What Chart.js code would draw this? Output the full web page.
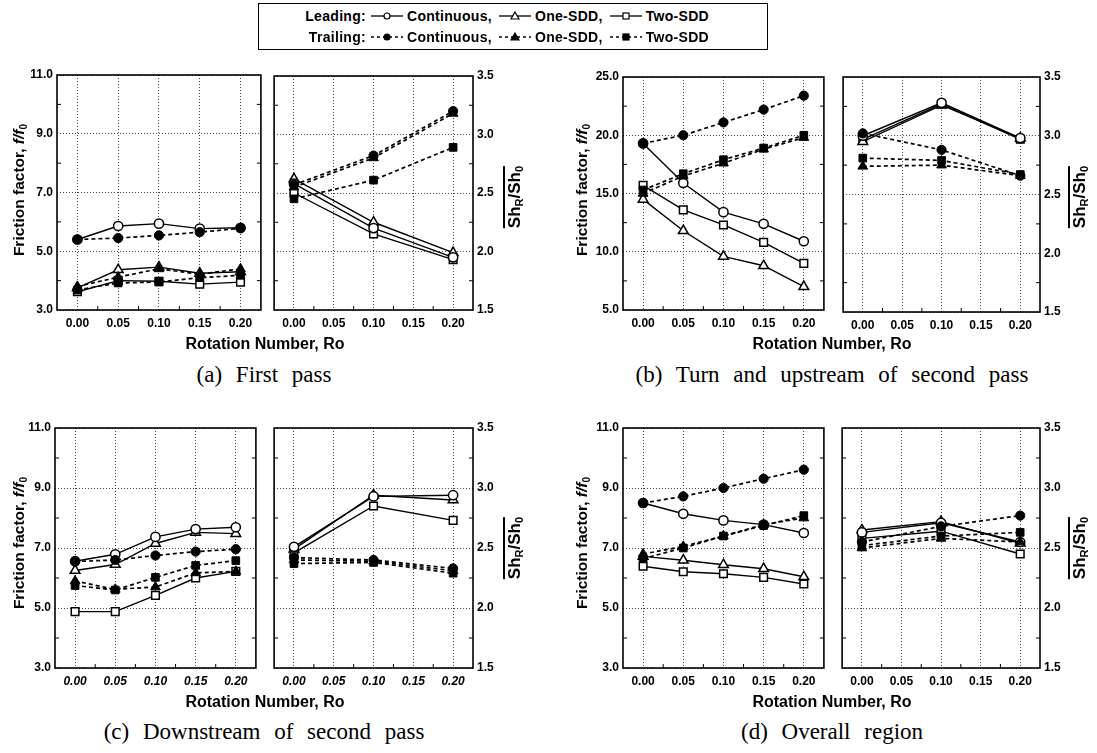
<!DOCTYPE html>
<html><head><meta charset="utf-8">
<script src="https://cdn.jsdelivr.net/npm/chart.js@4.4.1/dist/chart.umd.min.js"></script>
<style>
html,body{margin:0;padding:0;background:#fff;}
#page{position:relative;width:1097px;height:753px;overflow:hidden;background:#fff;font-family:"Liberation Sans",Arial,sans-serif;color:#000;}
#page canvas{position:absolute;}
.ttl{position:absolute;font-weight:bold;white-space:nowrap;transform:translate(-50%,-50%);line-height:1;}
.rot{transform:translate(-50%,-50%) rotate(-90deg);}
.cap{position:absolute;font-family:"Liberation Serif","DejaVu Serif",serif;font-size:23px;word-spacing:8px;white-space:nowrap;transform:translate(-50%,-50%);line-height:1;}
sub{font-size:65%;vertical-align:-0.3em;line-height:0;}
.ov{display:inline-block;border-top:2px solid #000;padding-top:1px;line-height:1;}
#legend{position:absolute;left:258px;top:3px;width:510px;height:47px;border:1.5px solid #000;box-sizing:border-box;}
.lrow{position:absolute;left:300px;display:flex;align-items:center;height:16px;transform:translateY(-50%);font-weight:bold;font-size:14px;letter-spacing:0.3px;white-space:nowrap;line-height:1;}
.lrow .lab{width:66px;text-align:right;margin-right:4px;}
.lrow svg{display:block;margin-right:3px;}
.lrow .txt{margin-right:6px;}
</style>
</head>
<body>
<div id="page">
  <div id="legend"></div>
</div>
<script>
// ---------------- DATA ----------------
const roFive = [0.00, 0.05, 0.10, 0.15, 0.20];
const roThree = [0.00, 0.10, 0.20];
const xTickValues = [0.00, 0.05, 0.10, 0.15, 0.20];
const xTickLabels = ['0.00', '0.05', '0.10', '0.15', '0.20'];
const fTickValues = [3, 5, 7, 9, 11];
const fTickLabels = ['3.0', '5.0', '7.0', '9.0', '11.0'];
const fTickValuesB = [5, 10, 15, 20, 25];
const fTickLabelsB = ['5.0', '10.0', '15.0', '20.0', '25.0'];
const shTickValues = [1.5, 2.0, 2.5, 3.0, 3.5];
const shTickLabels = ['1.5', '2.0', '2.5', '3.0', '3.5'];

const legendSurfaces = ['Leading:', 'Trailing:'];
const legendConfigs = ['Continuous,', 'One-SDD,', 'Two-SDD'];

// (a) First pass  - friction factor
const fA_LC = [5.40, 5.86, 5.94, 5.77, 5.80];
const fA_L1 = [3.75, 4.37, 4.46, 4.25, 4.30];
const fA_L2 = [3.62, 4.00, 3.98, 3.88, 3.95];
const fA_TC = [5.40, 5.45, 5.54, 5.65, 5.78];
const fA_T1 = [3.80, 4.12, 4.40, 4.22, 4.40];
const fA_T2 = [3.68, 3.92, 3.95, 4.10, 4.18];
// (a) Sh ratio
const sA_LC = [2.58, 2.20, 1.95];
const sA_L1 = [2.62, 2.25, 1.99];
const sA_L2 = [2.50, 2.15, 1.93];
const sA_TC = [2.57, 2.82, 3.20];
const sA_T1 = [2.55, 2.80, 3.18];
const sA_T2 = [2.45, 2.61, 2.89];

// (b) Turn and upstream of second pass
const fB_LC = [19.3, 15.9, 13.4, 12.4, 10.9];
const fB_L1 = [14.5, 11.8, 9.6, 8.8, 7.0];
const fB_L2 = [15.7, 13.6, 12.3, 10.8, 9.0];
const fB_TC = [19.3, 20.0, 21.1, 22.2, 23.4];
const fB_T1 = [15.0, 16.5, 17.6, 18.8, 19.8];
const fB_T2 = [15.3, 16.7, 17.9, 18.9, 20.0];
const sB_LC = [3.00, 3.28, 2.98];
const sB_L1 = [2.95, 3.26, 2.98];
const sB_L2 = [2.97, 3.27, 2.97];
const sB_TC = [3.02, 2.88, 2.66];
const sB_T1 = [2.74, 2.75, 2.66];
const sB_T2 = [2.81, 2.79, 2.67];

// (c) Downstream of second pass
const fC_LC = [6.56, 6.79, 7.37, 7.63, 7.69];
const fC_L1 = [6.25, 6.45, 7.15, 7.52, 7.48];
const fC_L2 = [4.88, 4.88, 5.42, 6.00, 6.22];
const fC_TC = [6.55, 6.60, 6.75, 6.88, 6.96];
const fC_T1 = [5.90, 5.62, 5.70, 6.17, 6.22];
const fC_T2 = [5.75, 5.60, 6.02, 6.42, 6.58];
const sC_LC = [2.51, 2.93, 2.94];
const sC_L1 = [2.49, 2.94, 2.90];
const sC_L2 = [2.46, 2.85, 2.73];
const sC_TC = [2.42, 2.40, 2.33];
const sC_T1 = [2.40, 2.39, 2.31];
const sC_T2 = [2.37, 2.38, 2.29];

// (d) Overall region
const fD_LC = [8.50, 8.14, 7.92, 7.78, 7.50];
const fD_L1 = [6.72, 6.59, 6.44, 6.31, 6.04];
const fD_L2 = [6.39, 6.21, 6.14, 6.02, 5.80];
const fD_TC = [8.50, 8.72, 9.00, 9.31, 9.61];
const fD_T1 = [6.80, 7.05, 7.40, 7.78, 8.00];
const fD_T2 = [6.65, 7.00, 7.40, 7.75, 8.08];
const sD_LC = [2.63, 2.71, 2.55];
const sD_L1 = [2.65, 2.72, 2.54];
const sD_L2 = [2.58, 2.64, 2.45];
const sD_TC = [2.55, 2.68, 2.77];
const sD_T1 = [2.50, 2.58, 2.55];
const sD_T2 = [2.52, 2.60, 2.63];

// ---------------- STYLE ----------------
const FONT = '"Liberation Sans", Arial, sans-serif';
const RAD = {circle: 4.6, triangle: 5.6, rect: 5.4};
const shapes = ['circle', 'triangle', 'rect'];
function leadStyle(ps) {
  return {borderColor: '#000', borderWidth: 1.4, pointStyle: ps, pointRadius: RAD[ps],
    pointBackgroundColor: '#fff', pointBorderColor: '#000', pointBorderWidth: 1.5, tension: 0, fill: false};
}
function trailStyle(ps) {
  return {borderColor: '#000', borderWidth: 1.7, borderDash: [4, 3], pointStyle: ps, pointRadius: RAD[ps],
    pointBackgroundColor: '#000', pointBorderColor: '#000', pointBorderWidth: 1, tension: 0, fill: false};
}
function buildSeries(xs, lc, l1, l2, tc, t1, t2) {
  const mk = arr => arr.map((v, i) => ({x: xs[i], y: v}));
  const lead = [lc, l1, l2], trail = [tc, t1, t2];
  const out = [];
  trail.forEach((arr, k) => out.push(Object.assign({label: legendSurfaces[1] + ' ' + legendConfigs[k], data: mk(arr)}, trailStyle(shapes[k]))));
  lead.forEach((arr, k) => out.push(Object.assign({label: legendSurfaces[0] + ' ' + legendConfigs[k], data: mk(arr)}, leadStyle(shapes[k]))));
  return out;
}

const framePlugin = {
  id: 'frame',
  afterDatasetsDraw(chart) {
    const {ctx, chartArea: a} = chart;
    const xs = chart.scales.x, ys = chart.scales.y;
    ctx.save();
    ctx.strokeStyle = '#000';
    ctx.lineWidth = 1.6;
    ctx.strokeRect(a.left, a.top, a.right - a.left, a.bottom - a.top);
    ctx.lineWidth = 1;
    ctx.beginPath();
    const yv = ys.ticks.map(t => t.value);
    for (let i = 0; i < yv.length - 1; i++) {
      const p = ys.getPixelForValue((yv[i] + yv[i + 1]) / 2);
      ctx.moveTo(a.left, p); ctx.lineTo(a.left + 4, p);
      ctx.moveTo(a.right, p); ctx.lineTo(a.right - 4, p);
    }
    const xv = xs.ticks.map(t => t.value);
    for (let i = 0; i < xv.length - 1; i++) {
      const p = xs.getPixelForValue((xv[i] + xv[i + 1]) / 2);
      ctx.moveTo(p, a.bottom); ctx.lineTo(p, a.bottom - 4);
    }
    ctx.stroke();
    ctx.restore();
  }
};

const page = document.getElementById('page');

function makePanel(box, side, yMin, yMax, yVals, yLabels, datasets, italic) {
  const c = document.createElement('canvas');
  const padL = side === 'left' ? 55 : 6;
  const padR = side === 'left' ? 6 : 42;
  const padT = 12, padB = 26;
  const w = box.r - box.l + padL + padR;
  const h = box.b - box.t + padT + padB;
  c.width = w; c.height = h;
  c.style.left = (box.l - padL) + 'px';
  c.style.top = (box.t - padT) + 'px';
  c.style.width = w + 'px'; c.style.height = h + 'px';
  page.appendChild(c);
  const tickFont = {family: FONT, size: 12, weight: 'bold'};
  new Chart(c, {
    type: 'line',
    data: {datasets},
    options: {
      responsive: false, animation: false, events: [], devicePixelRatio: 1,
      layout: {padding: {left: side === 'left' ? 0 : padL, right: side === 'left' ? padR : 0, top: padT, bottom: 0}},
      plugins: {legend: {display: false}, tooltip: {enabled: false}},
      scales: {
        x: {
          type: 'linear', min: -0.025, max: 0.225, bounds: 'data',
          afterBuildTicks: s => { s.ticks = xTickValues.map(v => ({value: v})); },
          afterFit: s => { s.height = padB; },
          ticks: {callback: (v, i) => xTickLabels[i], color: '#000', autoSkip: false, maxRotation: 0, padding: 6,
            font: Object.assign({}, tickFont, {style: italic ? 'italic' : 'normal'})},
          grid: {color: '#444', lineWidth: 1, drawTicks: false},
          border: {display: false, dash: [1, 2]}
        },
        y: {
          type: 'linear', position: side, min: yMin, max: yMax, bounds: 'data',
          afterBuildTicks: s => { s.ticks = yVals.map(v => ({value: v})); },
          afterFit: s => { s.width = side === 'left' ? padL : padR; },
          ticks: {callback: (v, i) => yLabels[i], color: '#000', autoSkip: false, padding: 4, font: tickFont},
          grid: {color: '#444', lineWidth: 1, drawTicks: false},
          border: {display: false, dash: [1, 2]}
        }
      }
    },
    plugins: [framePlugin]
  });
}

// ---------------- PANELS ----------------
makePanel({l: 57, t: 75, r: 262, b: 310}, 'left', 3, 11, fTickValues, fTickLabels,
  buildSeries(roFive, fA_LC, fA_L1, fA_L2, fA_TC, fA_T1, fA_T2), false);
makePanel({l: 273, t: 76, r: 473, b: 310}, 'right', 1.5, 3.5, shTickValues, shTickLabels,
  buildSeries(roThree, sA_LC, sA_L1, sA_L2, sA_TC, sA_T1, sA_T2), false);
makePanel({l: 623, t: 77, r: 825, b: 310}, 'left', 5, 25, fTickValuesB, fTickLabelsB,
  buildSeries(roFive, fB_LC, fB_L1, fB_L2, fB_TC, fB_T1, fB_T2), false);
makePanel({l: 842, t: 77, r: 1040, b: 312}, 'right', 1.5, 3.5, shTickValues, shTickLabels,
  buildSeries(roThree, sB_LC, sB_L1, sB_L2, sB_TC, sB_T1, sB_T2), false);
makePanel({l: 55, t: 428, r: 257, b: 668}, 'left', 3, 11, fTickValues, fTickLabels,
  buildSeries(roFive, fC_LC, fC_L1, fC_L2, fC_TC, fC_T1, fC_T2), true);
makePanel({l: 273, t: 428, r: 473, b: 668}, 'right', 1.5, 3.5, shTickValues, shTickLabels,
  buildSeries(roThree, sC_LC, sC_L1, sC_L2, sC_TC, sC_T1, sC_T2), true);
makePanel({l: 623, t: 428, r: 825, b: 668}, 'left', 3, 11, fTickValues, fTickLabels,
  buildSeries(roFive, fD_LC, fD_L1, fD_L2, fD_TC, fD_T1, fD_T2), false);
makePanel({l: 841, t: 428, r: 1040, b: 668}, 'right', 1.5, 3.5, shTickValues, shTickLabels,
  buildSeries(roThree, sD_LC, sD_L1, sD_L2, sD_TC, sD_T1, sD_T2), false);

// ---------------- TEXTS ----------------
function addDiv(cls, x, y, html, extra) {
  const d = document.createElement('div');
  d.className = cls;
  d.style.left = x + 'px'; d.style.top = y + 'px';
  if (extra) Object.assign(d.style, extra);
  d.innerHTML = html;
  page.appendChild(d);
  return d;
}
const fTitle = 'Friction factor, <i>f/f</i><sub>0</sub>';
const shTitle = '<span class="ov">Sh<sub>R</sub>/Sh<sub>0</sub></span>';
const xTitle = 'Rotation Number, Ro';
const captions = ['(a) First pass', '(b) Turn and upstream of second pass', '(c) Downstream of second pass', '(d) Overall region'];

[[19, 190], [582, 190], [19, 543], [582, 543]].forEach(p => addDiv('ttl rot', p[0], p[1], fTitle, {fontSize: '15.5px'}));
[[513, 197], [1078, 197], [513, 548], [1078, 548]].forEach(p => addDiv('ttl rot', p[0], p[1], shTitle, {fontSize: '17px'}));
[[265, 344], [832, 344], [265, 702], [832, 702]].forEach(p => addDiv('ttl', p[0], p[1], xTitle, {fontSize: '16px'}));
[[264, 374], [832, 374], [264, 731], [832, 731]].forEach((p, i) => addDiv('cap', p[0], p[1], captions[i]));

// ---------------- LEGEND ----------------
function legendIcon(shape, dashed) {
  const W = 34, H = 12, cx = W / 2, cy = H / 2;
  let m = '';
  const fill = dashed ? '#000' : '#fff';
  if (shape === 'circle') m = `<circle cx="${cx}" cy="${cy}" r="3" fill="${fill}" stroke="#000" stroke-width="1.2"/>`;
  if (shape === 'triangle') m = `<polygon points="${cx},${cy - 4} ${cx + 4},${cy + 3} ${cx - 4},${cy + 3}" fill="${fill}" stroke="#000" stroke-width="1.2"/>`;
  if (shape === 'rect') m = `<rect x="${cx - 3}" y="${cy - 3}" width="6" height="6" fill="${fill}" stroke="#000" stroke-width="1.2"/>`;
  const dash = dashed ? ' stroke-dasharray="3,3"' : '';
  return `<svg width="${W}" height="${H}" xmlns="http://www.w3.org/2000/svg"><line x1="1" y1="${cy}" x2="${W - 1}" y2="${cy}" stroke="#000" stroke-width="1.3"${dash}/>${m}</svg>`;
}
const rowsY = [16, 37];
rowsY.forEach((ry, r) => {
  const row = document.createElement('div');
  row.className = 'lrow';
  row.style.top = ry + 'px';
  let html = `<span class="lab">${legendSurfaces[r]}</span>`;
  legendConfigs.forEach((t, k) => {
    html += legendIcon(shapes[k], r === 1) + `<span class="txt">${t}</span>`;
  });
  row.innerHTML = html;
  page.appendChild(row);
});
</script>
</body></html>
